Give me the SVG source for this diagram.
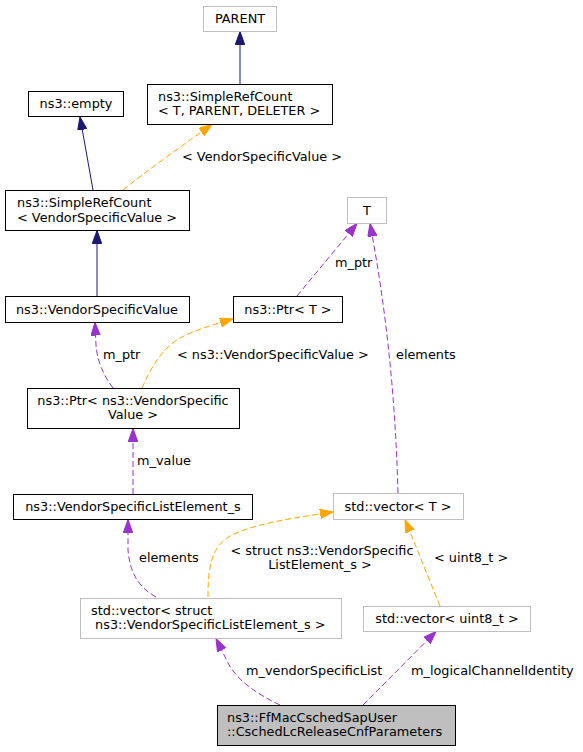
<svg xmlns="http://www.w3.org/2000/svg" width="583" height="752" viewBox="0 0 583 752">
<style>
text{font-family:"DejaVu Sans","Liberation Sans",sans-serif;font-size:12.85px;fill:#000}
.nb rect{fill:#fff;stroke:#000;stroke-width:1}
.ng rect{fill:#fff;stroke:#bfbfbf;stroke-width:1}
.nf rect{fill:#bfbfbf;stroke:#000;stroke-width:1}
.c{text-anchor:middle}
.e{fill:none;stroke-width:1}
.navy{stroke:#191970}
.purple{stroke:#9a32cd;stroke-dasharray:6,3}
.orange{stroke:#ffa500;stroke-dasharray:6,3}
</style>
<defs>
<marker id="an" markerUnits="userSpaceOnUse" markerWidth="14" markerHeight="10" refX="13" refY="4.7" orient="auto"><path d="M0,0 L13,4.7 L0,9.4 z" fill="#191970" stroke="#191970"/></marker>
<marker id="ap" markerUnits="userSpaceOnUse" markerWidth="14" markerHeight="10" refX="13" refY="4.7" orient="auto"><path d="M0,0 L13,4.7 L0,9.4 z" fill="#9a32cd" stroke="#9a32cd"/></marker>
<marker id="ao" markerUnits="userSpaceOnUse" markerWidth="14" markerHeight="10" refX="13" refY="4.7" orient="auto"><path d="M0,0 L13,4.7 L0,9.4 z" fill="#ffa500" stroke="#ffa500"/></marker>
</defs>
<rect width="583" height="752" fill="#fff"/>
<g id="connectors">
<path class="e navy" d="M240,84 L240,31.5" marker-end="url(#an)"/>
<path class="e navy" d="M93,190 L80,117" marker-end="url(#an)"/>
<path class="e orange" d="M123,190 C145,172 190,140 212,124.5" marker-end="url(#ao)"/>
<path class="e navy" d="M97,296 L97,230.5" marker-end="url(#an)"/>
<path class="e purple" d="M113,388 C103,375 97,360 96,345 L95,322.5" marker-end="url(#ap)"/>
<path class="e orange" d="M142,388 C150,370 160,350 180,338 C195,330 215,324 233,319" marker-end="url(#ao)"/>
<path class="e purple" d="M297,296 L357,223.5" marker-end="url(#ap)"/>
<path class="e purple" d="M398,493 C396,420 390,330 370,223.5" marker-end="url(#ap)"/>
<path class="e purple" d="M133,494 L133,428.5" marker-end="url(#ap)"/>
<path class="e purple" d="M156,597 C140,588 130,575 128,550 L128,519.5" marker-end="url(#ap)"/>
<path class="e orange" d="M208,597 C208,570 210,548 230,536 C255,523 300,517 333,512" marker-end="url(#ao)"/>
<path class="e orange" d="M440,606 L405,519.5" marker-end="url(#ao)"/>
<path class="e purple" d="M280,705 C255,693 237,680 228,663 L216,638.5" marker-end="url(#ap)"/>
<path class="e purple" d="M363,705 L436,631.5" marker-end="url(#ap)"/>
</g>
<g id="edge-labels">
<text x="182" y="161">&lt; VendorSpecificValue &gt;</text>
<text x="103" y="359">m_ptr</text>
<text x="177" y="359">&lt; ns3::VendorSpecificValue &gt;</text>
<text x="335" y="267">m_ptr</text>
<text x="396" y="359">elements</text>
<text x="137" y="465">m_value</text>
<text x="139" y="562">elements</text>
<text class="c" x="322" y="555">&lt; struct ns3::VendorSpecific</text>
<text class="c" x="320" y="569">ListElement_s &gt;</text>
<text x="434" y="562">&lt; uint8_t &gt;</text>
<text x="246" y="675">m_vendorSpecificList</text>
<text x="411" y="675">m_logicalChannelIdentity</text>
</g>
<g id="node-parent" class="ng"><rect x="203.5" y="6.5" width="73" height="25"/><text class="c" x="240" y="23">PARENT</text></g>
<g id="node-simplerefcount-t" class="nb"><rect x="147.5" y="84.5" width="185" height="40"/><text x="158" y="100.5">ns3::SimpleRefCount</text><text x="158" y="115">&lt; T, PARENT, DELETER &gt;</text></g>
<g id="node-empty" class="nb"><rect x="28.5" y="91.5" width="95" height="25"/><text class="c" x="76" y="108">ns3::empty</text></g>
<g id="node-simplerefcount-vsv" class="nb"><rect x="5.5" y="190.5" width="184" height="40"/><text x="17" y="207">ns3::SimpleRefCount</text><text x="17" y="221.5">&lt; VendorSpecificValue &gt;</text></g>
<g id="node-t" class="ng"><rect x="347.5" y="197.5" width="39" height="26"/><text class="c" x="367" y="214.5">T</text></g>
<g id="node-vsv" class="nb"><rect x="5.5" y="296.5" width="184" height="26"/><text class="c" x="97" y="313.5">ns3::VendorSpecificValue</text></g>
<g id="node-ptr-t" class="nb"><rect x="233.5" y="296.5" width="109" height="26"/><text class="c" x="288" y="313.5">ns3::Ptr&lt; T &gt;</text></g>
<g id="node-ptr-vsv" class="nb"><rect x="27.5" y="388.5" width="212" height="40"/><text class="c" x="133" y="405">ns3::Ptr&lt; ns3::VendorSpecific</text><text class="c" x="133" y="419">Value &gt;</text></g>
<g id="node-vsle" class="nb"><rect x="13.5" y="494.5" width="239" height="25"/><text class="c" x="133" y="510.5">ns3::VendorSpecificListElement_s</text></g>
<g id="node-vector-t" class="ng"><rect x="333.5" y="493.5" width="130" height="26"/><text class="c" x="398" y="510.5">std::vector&lt; T &gt;</text></g>
<g id="node-vector-struct" class="ng"><rect x="80.5" y="598.5" width="261" height="40"/><text x="91" y="614.5">std::vector&lt; struct</text><text x="91" y="628.5" xml:space="preserve"> ns3::VendorSpecificListElement_s &gt;</text></g>
<g id="node-vector-uint8" class="ng"><rect x="363.5" y="606.5" width="167" height="25"/><text class="c" x="447" y="623">std::vector&lt; uint8_t &gt;</text></g>
<g id="node-ffmac" class="nf"><rect x="217.5" y="705.5" width="238" height="40"/><text x="227" y="721.5">ns3::FfMacCschedSapUser</text><text x="227" y="735.5">::CschedLcReleaseCnfParameters</text></g>
</svg>
